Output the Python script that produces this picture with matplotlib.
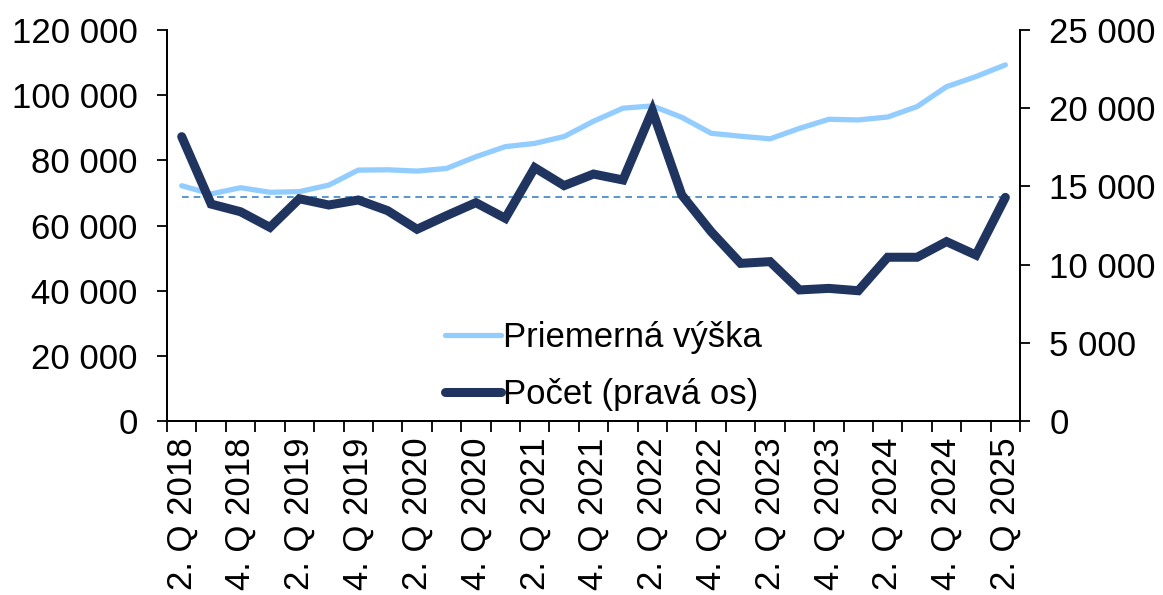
import numpy as np
import matplotlib
matplotlib.use("Agg")
import matplotlib.pyplot as plt
from matplotlib.ticker import FuncFormatter

plt.rcParams['font.family'] = ['Liberation Sans', 'DejaVu Sans']
plt.rcParams['font.size'] = 25

# stvrtroky 2. Q 2018 .. 2. Q 2025
quarters = []
for y in range(2018, 2026):
    for q in range(1, 5):
        if (y == 2018 and q < 2) or (y == 2025 and q > 2):
            continue
        quarters.append("%d. Q %d" % (q, y))

# priemerna vyska (lava os)
avg_amount = [72200, 69700, 71600, 70200, 70400, 72400, 77000, 77100, 76700, 77500,
              81100, 84200, 85200, 87300, 92000, 96000, 96700, 93200, 88300, 87400,
              86600, 89800, 92600, 92400, 93300, 96500, 102600, 105700, 109300]
# pocet (prava os)
count = [18180, 13870, 13380, 12380, 14210, 13810, 14130, 13450, 12260, 13130,
         13960, 12960, 16200, 15050, 15790, 15410, 19840, 14450, 12100, 10080,
         10190, 8380, 8480, 8330, 10470, 10470, 11470, 10610, 14300]

legend_labels = ["Priemerná výška", "Počet (pravá os)"]

light = "#93CDFF"
dark = "#1F3560"
dash_col = "#3A84C4"


def fmt(v, pos):
    return "{:,.0f}".format(v).replace(",", " ")


fig = plt.figure(figsize=(11.63, 5.95), dpi=100)
ax1 = fig.add_axes([0.1436, 0.2924, 0.7335, 0.6572])
ax2 = ax1.twinx()

x = np.arange(len(quarters))

l1, = ax1.plot(x, avg_amount, color=light, lw=3.8, solid_capstyle='round', label=legend_labels[0])
ax2.plot([x[0], x[-1]], [count[-1], count[-1]], color=dash_col, lw=1.2, ls=(0, (4, 3)), zorder=2)
l2, = ax2.plot(x, count, color=dark, lw=6.5, solid_capstyle='round', solid_joinstyle='miter', zorder=3, label=legend_labels[1])

ax1.set_xlim(-0.5, len(quarters) - 0.5)
ax1.set_ylim(0, 120000)
ax2.set_ylim(0, 25000)
ax1.set_yticks(np.arange(0, 120001, 20000))
ax2.set_yticks(np.arange(0, 25001, 5000))
ax1.yaxis.set_major_formatter(FuncFormatter(fmt))
ax2.yaxis.set_major_formatter(FuncFormatter(fmt))

# ciarky medzi stvrtrokmi, popisky kazdy druhy stvrtrok
ax1.set_xticks(np.arange(-0.5, len(quarters), 1))
ax1.set_xticklabels([])
ax1.set_xticks(x[::2], minor=True)
ax1.set_xticklabels([quarters[i] for i in x[::2]], minor=True, rotation=90)
ax1.tick_params(axis='x', which='major', length=8, width=1.3, direction='out')
ax1.tick_params(axis='x', which='minor', length=0, pad=12)

ax1.tick_params(axis='y', length=7, width=1.3, pad=14)
ax2.tick_params(axis='y', length=7, width=1.3, pad=14)

for a in (ax1, ax2):
    a.spines['top'].set_visible(False)
    for s in ('left', 'right', 'bottom'):
        a.spines[s].set_linewidth(1.3)

ax1.legend([l1, l2], legend_labels, loc='center left', bbox_to_anchor=(0.306, 0.14),
           frameon=False, handlelength=1.6, handletextpad=0.05, labelspacing=0.68,
           borderpad=0, fontsize=25)

fig.savefig("out.png", dpi=100)
